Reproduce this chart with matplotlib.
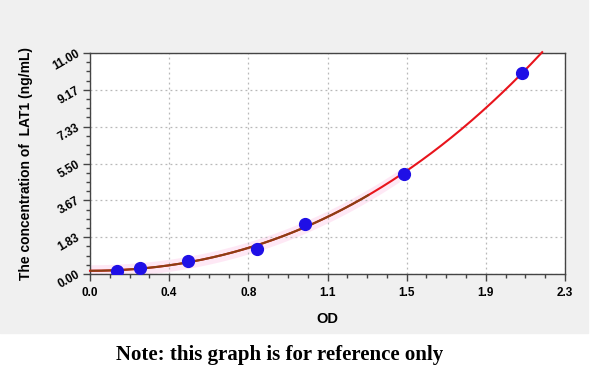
import numpy as np
import matplotlib
matplotlib.use("Agg")
import matplotlib.pyplot as plt
from matplotlib.patches import Rectangle
from matplotlib.ticker import FixedLocator, AutoMinorLocator

plt.rcParams["font.family"] = ["Liberation Sans", "DejaVu Sans"]

# standard points
od = [0.131, 0.242, 0.475, 0.809, 1.041, 1.520, 2.092]
conc = [0.156, 0.312, 0.625, 1.25, 2.5, 5.0, 10.0]

x_ticks = [0.0, 2.3 / 6, 2.3 * 2 / 6, 2.3 * 3 / 6, 2.3 * 4 / 6, 2.3 * 5 / 6, 2.3]
x_labels = ["0.0", "0.4", "0.8", "1.1", "1.5", "1.9", "2.3"]
y_ticks = [0.0, 11 / 6, 22 / 6, 33 / 6, 44 / 6, 55 / 6, 11.0]
y_labels = ["0.00", "1.83", "3.67", "5.50", "7.33", "9.17", "11.00"]

fig = plt.figure(figsize=(6, 3.74), dpi=100)
fig.patch.set_facecolor("white")
# grey panel behind the chart
fig.patches.append(Rectangle((0, 1 - 333 / 374), 588 / 600, 333 / 374,
                             transform=fig.transFigure, color="#f0f0f0", zorder=-5))

ax = fig.add_axes([90 / 600, 1 - 274 / 374, 475 / 600, 221 / 374])
ax.set_facecolor("white")

# fitted cubic curve
coef = np.polyfit(od, conc, 3)
xs = np.linspace(0, 2.4, 400)
ys = np.polyval(coef, xs)
keep = ys <= 11.05
xs, ys = xs[keep], ys[keep]

low = xs <= 1.5
ax.fill_between(xs[low], ys[low] - 0.3, ys[low] + 0.3, color="#fee8f5", lw=0, zorder=1)
ax.plot(xs, ys, color="#e8141c", lw=1.5, zorder=3, clip_on=False)
brown = xs <= 1.35
ax.plot(xs[brown], ys[brown], color="#8a3f14", lw=1.5, zorder=3)

ax.plot(od, conc, "o", color="#1f0fe6", ms=8.5, zorder=4)

ax.set_xlim(0, 2.3)
ax.set_ylim(0, 11)
ax.xaxis.set_major_locator(FixedLocator(x_ticks))
ax.yaxis.set_major_locator(FixedLocator(y_ticks))
ax.set_xticklabels(x_labels, fontsize=8.5, fontweight="bold")
ax.set_yticklabels(y_labels, fontsize=8.5, fontweight="bold", rotation=30,
                   ha="right", va="center", rotation_mode="anchor")
ax.xaxis.set_minor_locator(AutoMinorLocator(4))
ax.yaxis.set_minor_locator(AutoMinorLocator(4))
ax.tick_params(which="major", length=5, width=1, color="#444444", pad=4)
ax.tick_params(which="minor", length=3, width=1, color="#444444")
ax.tick_params(axis="y", pad=3)

ax.grid(True, which="major", color="#b8b8b8", ls=(0, (1.5, 2.5)), lw=0.9)
for s in ax.spines.values():
    s.set_color("#444444")
    s.set_linewidth(1)

ax.set_xlabel("OD", fontsize=10.5, fontweight="bold", labelpad=10)
ax.set_ylabel("The concentration of  LAT1 (ng/mL)", fontsize=10, fontweight="bold")
ax.yaxis.set_label_coords(-0.12, 0.5)

fig.text(280 / 600, 1 - 355 / 374, "Note: this graph is for reference only",
         fontsize=15, fontweight="bold", family="Liberation Serif", ha="center", va="center")

fig.savefig("out.png", dpi=100)
